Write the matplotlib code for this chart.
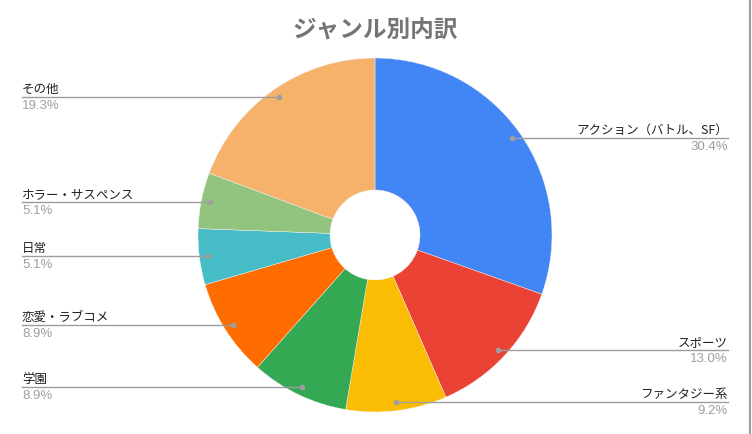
import matplotlib.pyplot as plt
import numpy as np

plt.rcParams['font.family'] = ['Noto Sans CJK JP', 'DejaVu Sans']

genres = ['アクション（バトル、SF）', 'スポーツ', 'ファンタジー系', '学園',
          '恋愛・ラブコメ', '日常', 'ホラー・サスペンス', 'その他']
shares = [30.4, 13.0, 9.2, 8.9, 8.9, 5.1, 5.1, 19.3]
colors = ['#4285F4', '#EA4335', '#FBBC04', '#34A853',
          '#FF6D01', '#46BDC6', '#93C47D', '#F6B26B']

W, H = 752, 435
cx, cy = 375, H - 236
R = 177
hole = 45

fig = plt.figure(figsize=(W / 100, H / 100), dpi=100)
ax = fig.add_axes([0, 0, 1, 1])

ax.pie(shares, colors=colors, startangle=90, counterclock=False,
       center=(cx, cy), radius=R,
       wedgeprops=dict(width=R - hole, edgecolor='#f4f4f4', linewidth=0.3))
ax.set_xlim(0, W)
ax.set_ylim(0, H)
ax.set_aspect('equal')
ax.axis('off')

ax.text(375, H - 31, 'ジャンル別内訳', ha='center', va='center',
        fontsize=17, fontweight='bold', color='#757575')

# labels with leader lines
total = sum(shares)
cum = 0
for name, val in zip(genres, shares):
    mid = (cum + val / 2) / total
    cum += val
    ang = np.deg2rad(90 - mid * 360)
    dx = cx + 0.95 * R * np.cos(ang)
    dy = cy + 0.95 * R * np.sin(ang)
    if dx > cx:
        x_edge, ha = 728, 'right'
    else:
        x_edge, ha = 22, 'left'
    ax.plot([dx, x_edge], [dy, dy], color='#9e9e9e', lw=1, zorder=3)
    ax.plot(dx, dy, 'o', color='#9e9e9e', ms=3, zorder=4)
    ax.text(x_edge, dy + 2, name, ha=ha, va='bottom', fontsize=9, color='#222222')
    ax.text(x_edge, dy - 2, f'{val:.1f}%', ha=ha, va='top', fontsize=9.5,
            color='#9e9e9e', family=['Liberation Sans', 'DejaVu Sans'])

ax.plot([750, 750], [0, H], color='#9e9e9e', lw=1.5)

fig.savefig('out.png', dpi=100)
